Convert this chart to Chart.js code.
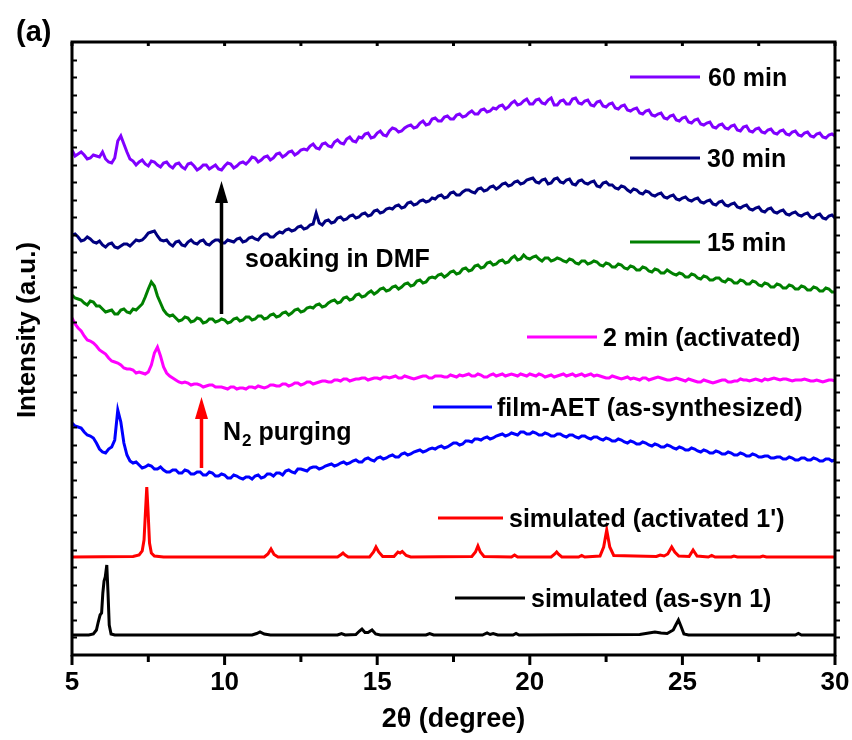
<!DOCTYPE html>
<html><head><meta charset="utf-8">
<script src="https://cdn.jsdelivr.net/npm/chart.js@4/dist/chart.umd.min.js"></script>
<style>html,body{margin:0;padding:0;background:#fff}#wrap{width:852px;height:740px}</style>
</head><body><div id="wrap"><canvas id="c" width="852" height="740"></canvas></div>
<script>
// 2θ sampling of the measured film patterns (degrees): even and odd tenths
const twoTheta = [
 5.0,5.2,5.4,5.6,5.8,6.0,6.2,6.4,6.6,6.8,
 7.0,7.2,7.4,7.6,7.8,8.0,8.2,8.4,8.6,8.8,
 9.0,9.2,9.4,9.6,9.8,10.0,10.2,10.4,10.6,10.8,
 11.0,11.2,11.4,11.6,11.8,12.0,12.2,12.4,12.6,12.8,
 13.0,13.2,13.4,13.6,13.8,14.0,14.2,14.4,14.6,14.8,
 15.0,15.2,15.4,15.6,15.8,16.0,16.2,16.4,16.6,16.8,
 17.0,17.2,17.4,17.6,17.8,18.0,18.2,18.4,18.6,18.8,
 19.0,19.2,19.4,19.6,19.8,20.0,20.2,20.4,20.6,20.8,
 21.0,21.2,21.4,21.6,21.8,22.0,22.2,22.4,22.6,22.8,
 23.0,23.2,23.4,23.6,23.8,24.0,24.2,24.4,24.6,24.8,
 25.0,25.2,25.4,25.6,25.8,26.0,26.2,26.4,26.6,26.8,
 27.0,27.2,27.4,27.6,27.8,28.0,28.2,28.4,28.6,28.8,
 29.0,29.2,29.4,29.6,29.8,30.0];
const twoThetaMid = [
 5.1,5.3,5.5,5.7,5.9,6.1,6.3,6.5,6.7,6.9,
 7.1,7.3,7.5,7.7,7.9,8.1,8.3,8.5,8.7,8.9,
 9.1,9.3,9.5,9.7,9.9,10.1,10.3,10.5,10.7,10.9,
 11.1,11.3,11.5,11.7,11.9,12.1,12.3,12.5,12.7,12.9,
 13.1,13.3,13.5,13.7,13.9,14.1,14.3,14.5,14.7,14.9,
 15.1,15.3,15.5,15.7,15.9,16.1,16.3,16.5,16.7,16.9,
 17.1,17.3,17.5,17.7,17.9,18.1,18.3,18.5,18.7,18.9,
 19.1,19.3,19.5,19.7,19.9,20.1,20.3,20.5,20.7,20.9,
 21.1,21.3,21.5,21.7,21.9,22.1,22.3,22.5,22.7,22.9,
 23.1,23.3,23.5,23.7,23.9,24.1,24.3,24.5,24.7,24.9,
 25.1,25.3,25.5,25.7,25.9,26.1,26.3,26.5,26.7,26.9,
 27.1,27.3,27.5,27.7,27.9,28.1,28.3,28.5,28.7,28.9,
 29.1,29.3,29.5,29.7,29.9];

// Intensities (a.u., stacked with offsets as in the figure)
const soak60 = [
 505,501,500,497,499,503,493,497,519,503,
 494,493,491,494,490,492,489,491,488,491,
 489,487,490,488,486,489,491,489,493,494,
 497,495,499,497,502,500,504,502,506,509,
 507,511,509,513,512,516,514,518,521,517,
 522,520,524,526,524,529,527,532,530,536,
 534,538,536,540,538,542,541,545,543,547,
 549,546,552,550,554,551,555,552,555,550,
 554,551,556,552,554,550,553,549,551,547,
 549,545,546,542,544,540,541,537,539,535,
 537,533,535,531,532,528,530,527,529,525,
 528,524,526,523,525,522,524,521,523,520,
 522,519,521,518,520,519];
const soak60Mid = [
 499,503,496,500,498,496,492,514,511,496,
 490,495,489,493,488,493,487,492,486,492,
 485,490,486,490,485,492,487,492,491,498,
 493,498,495,501,498,503,500,505,505,511,
 506,512,508,515,511,518,513,517,522,518,
 524,519,527,523,527,530,528,534,531,537,
 534,539,536,541,539,544,541,546,544,546,
 550,548,554,551,556,551,556,551,557,550,
 555,551,557,551,555,549,554,548,552,546,
 550,544,547,541,545,539,542,536,540,534,
 538,532,536,530,533,527,531,526,530,524,
 529,523,527,522,526,521,525,520,524,519,
 523,518,522,517,521];
const soak30 = [
 420,418,415,416,412,410,411,408,409,411,
 412,414,418,423,419,414,411,413,410,413,
 412,414,411,413,415,412,414,416,413,417,
 416,419,421,418,423,425,424,428,426,430,
 442,430,435,433,438,436,440,438,442,440,
 445,443,447,449,447,452,450,454,453,457,
 459,457,462,460,463,465,462,467,465,469,
 468,472,470,474,472,476,473,475,471,476,
 473,475,471,474,472,473,469,472,470,467,
 469,465,466,462,464,460,461,458,459,456,
 457,455,456,453,454,451,453,450,451,448,
 449,446,447,444,446,443,444,441,442,440,
 441,438,440,437,439,437];
const soak30Mid = [
 421,414,418,413,414,408,412,407,411,409,
 415,415,422,424,415,415,409,414,409,415,
 411,415,410,415,412,415,413,417,414,418,
 415,421,418,421,422,426,425,429,427,431,
 432,434,432,437,435,439,437,441,439,444,
 442,446,446,450,448,453,451,455,454,456,
 460,458,463,460,465,463,466,464,468,466,
 471,469,473,471,475,477,472,476,472,477,
 472,476,470,475,471,474,468,473,470,466,
 468,463,465,461,463,459,462,457,460,455,
 458,454,457,452,455,450,454,449,452,447,
 450,445,448,443,447,442,445,440,443,439,
 442,437,441,436,440];
const soak15 = [
 360,356,352,354,349,346,344,341,345,343,
 346,348,358,373,359,345,339,337,335,337,
 334,336,333,336,334,335,333,337,335,338,
 336,339,337,341,339,343,342,346,344,348,
 350,348,352,355,353,358,356,361,359,364,
 363,367,365,369,368,372,370,375,373,378,
 380,378,383,381,386,384,389,387,392,390,
 394,392,397,395,400,396,399,394,397,395,
 396,393,395,391,394,392,393,389,391,388,
 390,386,388,385,387,383,385,382,383,380,
 381,378,380,376,378,375,377,373,375,372,
 374,371,373,369,371,368,370,367,369,366,
 368,365,367,364,366,363];
const soak15Mid = [
 357,355,350,353,349,343,345,341,346,342,
 345,351,366,369,352,341,340,334,338,333,
 337,332,336,333,336,332,336,334,338,335,
 339,336,340,338,342,340,345,343,347,347,
 351,349,354,352,357,355,360,358,362,361,
 366,364,368,366,371,369,374,372,377,377,
 381,380,384,382,387,385,390,388,393,391,
 395,393,399,396,397,398,396,397,394,397,
 394,396,392,394,391,394,390,392,388,391,
 387,389,385,388,384,386,382,385,381,382,
 378,381,377,379,375,377,374,376,372,375,
 371,374,370,372,368,371,367,370,366,369,
 365,368,364,367,363];
const activated2 = [
 337,327,319,314,309,303,297,293,290,286,
 285,283,281,290,308,288,279,275,272,272,
 271,270,269,270,268,267,268,266,267,268,
 267,268,268,270,269,271,270,272,271,273,
 272,274,273,275,274,276,275,276,277,276,
 277,278,277,279,277,278,276,278,279,277,
 279,278,280,278,279,281,279,280,278,281,
 280,279,281,279,280,281,279,280,279,278,
 280,279,281,280,279,281,280,278,277,278,
 276,278,277,275,277,276,278,276,275,277,
 275,276,274,273,274,272,274,275,273,274,
 275,274,276,274,275,277,275,276,274,275,
 276,274,275,273,275,274];
const activated2Mid = [
 331,324,315,312,305,301,294,292,287,286,
 282,282,283,302,299,282,277,273,273,270,
 271,268,270,268,268,266,268,267,266,268,
 269,267,270,269,271,269,272,270,273,271,
 273,274,273,275,276,274,276,277,275,277,
 276,278,278,277,279,277,277,279,277,279,
 279,278,279,280,280,279,281,278,280,279,
 281,280,280,281,279,280,281,278,280,279,
 281,280,279,281,280,279,279,277,279,277,
 277,276,276,277,275,277,277,275,276,276,
 274,275,273,275,273,273,275,273,274,276,
 275,275,275,276,276,276,276,275,275,275,
 275,274,274,274,275];
const filmAET = [
 232,228,223,219,212,203,206,215,233,200,
 192,190,188,189,186,185,183,185,182,184,
 181,183,180,182,179,180,177,179,176,178,
 179,177,181,179,182,184,183,186,185,187,
 188,187,190,189,192,191,194,193,196,195,
 197,196,199,198,201,200,203,205,204,207,
 208,207,210,212,211,214,216,215,218,217,
 220,219,222,220,223,221,222,220,221,219,
 221,218,220,217,219,216,218,215,216,214,
 215,212,213,211,212,209,210,208,209,206,
 207,205,206,203,204,202,203,201,202,200,
 201,199,200,198,199,197,198,196,197,195,
 197,195,196,194,196,195];
const filmAETMid = [
 229,227,220,217,206,202,208,245,212,194,
 193,187,190,186,188,183,185,182,185,181,
 183,180,183,179,181,177,180,177,178,176,
 180,178,181,182,180,185,182,186,184,188,
 186,189,191,190,193,192,195,193,197,194,
 198,197,200,198,202,201,204,203,206,206,
 209,208,212,210,214,213,216,217,216,219,
 221,220,221,223,221,223,220,222,219,221,
 219,220,218,219,217,218,216,217,214,216,
 213,214,211,213,210,211,208,210,207,208,
 205,207,204,205,202,204,201,203,200,202,
 199,201,198,199,197,198,196,198,195,197,
 195,197,194,196,194];

// Simulated patterns: [2θ, intensity]
const simActivated = [
 [5.0,98],[7.0,98.5],[7.2,100],[7.3,104],[7.36,115],[7.41,145],[7.45,168],[7.49,145],[7.54,112],[7.6,102],[7.7,99],[8.0,98],
 [11.3,98],[11.42,101],[11.52,106],[11.62,100.5],[11.75,98],
 [13.7,98],[13.82,100.5],[13.88,102],[13.95,100],[14.05,98],
 [14.75,98],[14.88,103],[14.96,108],[15.05,103],[15.18,98.5],
 [15.55,98.5],[15.68,103],[15.75,102],[15.82,103.5],[15.95,99.5],[16.1,98],
 [18.1,98.5],[18.22,103],[18.3,109],[18.38,103],[18.5,98.5],
 [19.4,98],[19.5,100],[19.6,98],
 [20.7,98],[20.82,101],[20.88,103],[20.95,100.5],[21.05,98],
 [21.6,98],[21.7,99.5],[21.8,98],
 [22.3,99],[22.42,108],[22.52,125],[22.62,108],[22.75,99.5],
 [24.15,98.5],[24.27,100],[24.4,99],[24.52,101],[24.65,108],[24.75,103],[24.88,99],
 [25.22,98.5],[25.35,105],[25.48,99],
 [25.85,98],[25.96,99.5],[26.07,98],
 [26.6,98],[26.69,99],[26.8,98],
 [27.55,98],[27.64,99],[27.75,98],[30.0,98]];
const simAsSyn = [
 [5.0,20],[5.55,20],[5.7,21],[5.8,25],[5.86,33],[5.92,40],[5.97,42],[6.01,62],[6.05,74],[6.09,78],[6.14,90],[6.18,62],[6.22,30],[6.28,21],[6.4,20],
 [10.9,20],[11.05,21.5],[11.16,23],[11.3,21],[11.5,20],
 [13.7,20],[13.83,21.5],[13.95,20],
 [14.3,20.5],[14.42,24],[14.5,26],[14.6,22.5],[14.7,22.5],[14.83,25],[14.95,21],[15.1,20],
 [16.6,20],[16.72,21.5],[16.85,20],
 [18.45,20],[18.6,22],[18.7,20.5],[18.8,21.5],[18.95,20],
 [19.45,20],[19.55,21.5],[19.65,20],
 [23.6,20.5],[23.9,22],[24.1,23],[24.3,22],[24.5,21.5],[24.7,25],[24.8,31],[24.87,35],[24.95,29],[25.05,21],[25.2,20],
 [28.7,20],[28.8,21.5],[28.9,20],[30.0,20]];

const seriesNames = ['60 min','30 min','15 min','2 min (activated)','film-AET (as-synthesized)',"simulated (activated 1')",'simulated (as-syn 1)'];
const xTickValues = [5,10,15,20,25,30];

// merge even and odd tenth samples into one ordered series
const measured = (ev, od) => {
  const pts = twoTheta.map((x,i)=>({x:x, y:ev[i]})).concat(twoThetaMid.map((x,i)=>({x:x, y:od[i]})));
  return pts.sort((a,b)=>a.x-b.x);
};
const pairs = arr => arr.map(p=>({x:p[0], y:p[1]}));

const COLORS = ['#8000ff','#000080','#008000','#ff00ff','#0000ff','#ff0000','#000000'];
const seriesData = [measured(soak60,soak60Mid), measured(soak30,soak30Mid), measured(soak15,soak15Mid),
  measured(activated2,activated2Mid), measured(filmAET,filmAETMid), pairs(simActivated), pairs(simAsSyn)];

const SANS = "'Liberation Sans',Arial,sans-serif";

// legend / annotation layout (pixels)
const legendLayout = [
 {x1:630,x2:700,y:77,tx:708},
 {x1:630,x2:700,y:158,tx:707},
 {x1:630,x2:700,y:242,tx:707},
 {x1:527,x2:597,y:337,tx:603},
 {x1:433,x2:492,y:407,tx:497},
 {x1:438,x2:503,y:518,tx:509},
 {x1:455,x2:525,y:598,tx:531}
];

const annot = {
  id:'annot',
  afterDraw(chart){
    const {ctx, chartArea:a, scales:{x}} = chart;
    ctx.save();
    ctx.strokeStyle='#000'; ctx.fillStyle='#000';
    ctx.lineWidth=3;
    for (let v=5; v<=30; v+=2.5){
      const px = x.getPixelForValue(v);
      const major = (v%5===0);
      ctx.beginPath(); ctx.moveTo(px,a.bottom); ctx.lineTo(px,a.bottom+(major?10:7)); ctx.stroke();
      ctx.beginPath(); ctx.moveTo(px,a.top); ctx.lineTo(px,a.top+4); ctx.stroke();
    }
    ctx.lineWidth=2;
    for (let k=1;k<35;k++){
      const py = Math.round(a.bottom - k*(a.bottom-a.top)/35)+0.5;
      ctx.beginPath(); ctx.moveTo(a.left,py); ctx.lineTo(a.left+5,py); ctx.stroke();
      ctx.beginPath(); ctx.moveTo(a.right,py); ctx.lineTo(a.right+5,py); ctx.stroke();
    }
    ctx.lineWidth=3;
    ctx.strokeRect(a.left,a.top,a.right-a.left,a.bottom-a.top);

    ctx.font='bold 25px '+SANS;
    ctx.textBaseline='middle'; ctx.textAlign='left';
    legendLayout.forEach((L,i)=>{
      ctx.strokeStyle=COLORS[i]; ctx.lineWidth=3;
      ctx.beginPath(); ctx.moveTo(L.x1,L.y); ctx.lineTo(L.x2,L.y); ctx.stroke();
      ctx.fillStyle='#000';
      ctx.fillText(seriesNames[i], L.tx, L.y+2);
    });

    function arrow(px, yb, yt, color){
      ctx.strokeStyle=color; ctx.fillStyle=color; ctx.lineWidth=3.5;
      ctx.beginPath(); ctx.moveTo(px,yb); ctx.lineTo(px,yt+18); ctx.stroke();
      ctx.beginPath(); ctx.moveTo(px,yt); ctx.lineTo(px-6.5,yt+22); ctx.lineTo(px+6.5,yt+22); ctx.closePath(); ctx.fill();
    }
    arrow(221.5,314,181,'#000');
    arrow(201.5,468,397,'#ff0000');

    ctx.fillStyle='#000';
    ctx.font='bold 25px '+SANS;
    ctx.fillText('soaking in DMF',245,260);
    ctx.fillText('N',223,433);
    const wN = ctx.measureText('N').width;
    ctx.font='bold 17px '+SANS;
    ctx.fillText('2',223+wN+1,441);
    const w2 = ctx.measureText('2').width;
    ctx.font='bold 25px '+SANS;
    ctx.fillText(' purging',223+wN+1+w2,433);

    ctx.font='bold 29px '+SANS;
    ctx.fillText('(a)',16,33);

    ctx.save();
    ctx.translate(28,330); ctx.rotate(-Math.PI/2);
    ctx.textAlign='center'; ctx.textBaseline='middle';
    ctx.font='bold 26px '+SANS;
    ctx.fillText('Intensity (a.u.)',0,0);
    ctx.restore();
    ctx.restore();
  }
};

new Chart(document.getElementById('c').getContext('2d'), {
  type:'line',
  data:{ datasets: seriesData.map((d,i)=>({label:seriesNames[i], data:d, borderColor:COLORS[i], backgroundColor:COLORS[i], borderWidth:3, pointRadius:0, tension:0, fill:false})) },
  options:{
    responsive:false, animation:false, devicePixelRatio:1,
    layout:{padding:{left:0,right:17,top:42,bottom:0}},
    plugins:{legend:{display:false}, tooltip:{enabled:false}},
    scales:{
      x:{type:'linear', min:5, max:30,
         afterFit:s=>{s.height=85; s.paddingLeft=0; s.paddingRight=0;},
         afterBuildTicks:s=>{s.ticks = xTickValues.map(v=>({value:v}));},
         ticks:{color:'#000', padding:12, maxRotation:0, autoSkip:false, font:{family:SANS, size:26, weight:'bold'}},
         grid:{display:false, drawTicks:false}, border:{display:false},
         title:{display:true, text:'2θ (degree)', color:'#000', padding:{top:0,bottom:4}, font:{family:SANS, size:27, weight:'bold'}}},
      y:{min:0, max:613, afterFit:s=>{s.width=72;}, ticks:{display:false}, grid:{display:false, drawTicks:false}, border:{display:false}}
    }
  },
  plugins:[annot]
});
</script></body></html>
